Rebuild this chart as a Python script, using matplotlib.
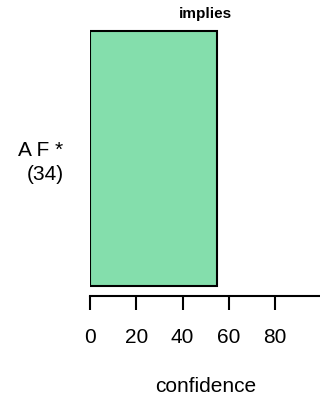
import matplotlib
matplotlib.use('Agg')
import matplotlib.pyplot as plt

categories = ['A F *\n(34)']
confidence = [55]
xticks = [0, 20, 40, 60, 80]

plt.rcParams['font.family'] = ['Liberation Sans', 'DejaVu Sans']

fig = plt.figure(figsize=(3.2, 4.01), dpi=100)
ax = fig.add_axes([90 / 320, 105 / 401, 231.5 / 320, 275.2 / 401])

ax.barh(range(len(categories)), confidence, height=1.0, left=0,
        color='#84DEAC', edgecolor='black', linewidth=1.5)

ax.set_xlim(0, 100)
ax.set_ylim(-0.54, 0.54)

for side in ['top', 'right', 'left']:
    ax.spines[side].set_visible(False)
ax.spines['bottom'].set_bounds(0, 100)
ax.spines['bottom'].set_linewidth(1.5)

ax.set_xticks(xticks)
ax.tick_params(axis='x', length=10, width=1.5, pad=13, labelsize=15)
ax.set_yticks(range(len(categories)))
ax.set_yticklabels(categories, fontsize=15, linespacing=1.3)
ax.tick_params(axis='y', length=0, pad=19)

ax.set_xlabel('confidence', fontsize=15, labelpad=22)
ax.set_title('implies', fontsize=11, fontweight='bold', pad=-1)

fig.savefig('out.png', dpi=100)
